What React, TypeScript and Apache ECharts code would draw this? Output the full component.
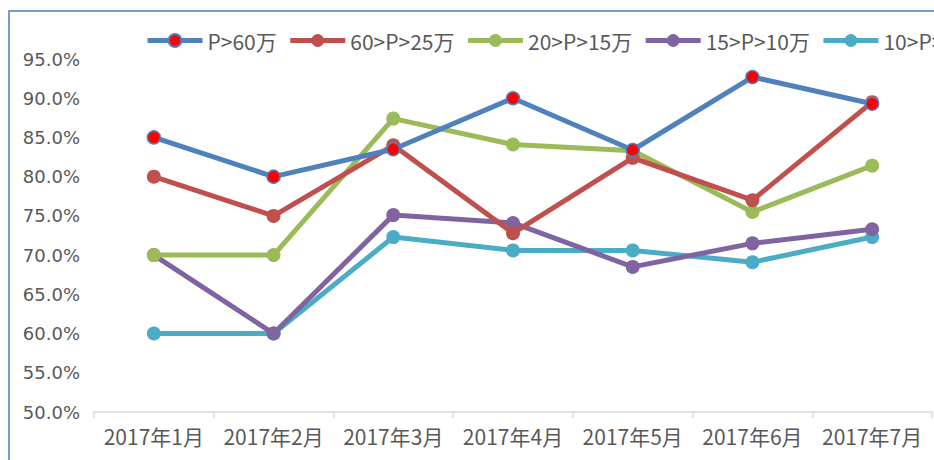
import React, { useEffect, useRef } from "react";
import * as echarts from "echarts";

const categories = ["2017年1月", "2017年2月", "2017年3月", "2017年4月", "2017年5月", "2017年6月", "2017年7月"];
const seriesNames = ["P>60万", "60>P>25万", "20>P>15万", "15>P>10万", "10>P>5万"];
const p60 = [85.0, 80.0, 83.5, 90.0, 83.4, 92.7, 89.3];
const p60to25 = [80.0, 75.0, 84.0, 72.8, 82.4, 77.0, 89.5];
const p25to15 = [70.0, 70.0, 87.4, 84.1, 83.3, 75.5, 81.4];
const p15to10 = [70.0, 60.0, 75.1, 74.1, 68.5, 71.5, 73.3];
const p10to5 = [60.0, 60.0, 72.3, 70.6, 70.6, 69.1, 72.3];
const yTicks = { min: 50, max: 95, interval: 5 };

const colors = ["#4f81bd", "#c0504d", "#9bbb59", "#8064a2", "#4bacc6"];

export default function App() {
  const ref = useRef<HTMLDivElement>(null);
  useEffect(() => {
    document.body.style.margin = "0";
    const chart = echarts.init(ref.current!, null, { renderer: "svg" });
    const data = [p60, p60to25, p25to15, p15to10, p10to5];
    chart.setOption({
      animation: false,
      backgroundColor: "#ffffff",
      graphic: [
        {
          type: "rect",
          shape: { x: 9, y: 11, width: 1000, height: 500 },
          style: { fill: "none", stroke: "#4a7ebb", lineWidth: 1.5 },
          silent: true,
        },
      ],
      legend: {
        left: 145,
        top: 30,
        width: 1400,
        padding: 0,
        itemWidth: 55,
        itemHeight: 16,
        itemGap: 11,
        lineStyle: { width: 5 },
        textStyle: { color: "#595959", fontSize: 21, fontFamily: "Noto Sans CJK SC" },
        data: seriesNames,
      },
      grid: { left: 94, right: 2, top: 59, bottom: 48, containLabel: false },
      xAxis: {
        type: "category",
        data: categories,
        boundaryGap: true,
        axisLine: { lineStyle: { color: "#d9d9d9", width: 1.5 } },
        axisTick: { show: true, length: 6, lineStyle: { color: "#d9d9d9", width: 1.5 } },
        axisLabel: { color: "#595959", fontSize: 21, margin: 13, fontFamily: "Noto Sans CJK SC", interval: 0 },
      },
      yAxis: {
        type: "value",
        min: yTicks.min,
        max: yTicks.max,
        interval: yTicks.interval,
        axisLine: { show: false },
        axisTick: { show: false },
        splitLine: { show: false },
        axisLabel: {
          color: "#595959",
          fontSize: 18,
          margin: 14,
          fontFamily: "DejaVu Sans",
          formatter: (v: number) => v.toFixed(1) + "%",
        },
      },
      series: seriesNames.map((name, i) => ({
        name,
        type: "line",
        data: data[i],
        symbol: "circle",
        symbolSize: i === 0 ? 13 : 14,
        lineStyle: { color: colors[i], width: 5 },
        itemStyle:
          i === 0
            ? { color: "#ff0000", borderColor: colors[0], borderWidth: 1.5 }
            : { color: colors[i], borderWidth: 0 },
        z: 10 - i,
      })),
    });
    return () => chart.dispose();
  }, []);
  return <div ref={ref} style={{ width: 934, height: 460 }} />;
}
